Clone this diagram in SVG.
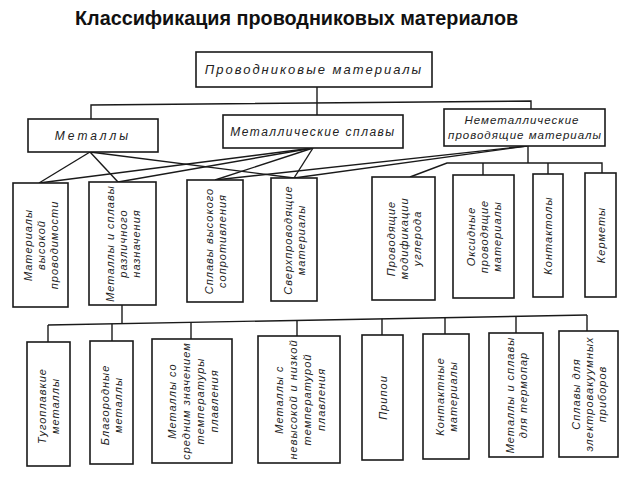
<svg xmlns="http://www.w3.org/2000/svg" width="640" height="480" viewBox="0 0 640 480">
<style>
.b{fill:#fff;stroke:#1a1a1a;stroke-width:1.6}
.c{fill:none;stroke:#1a1a1a;stroke-width:1.4}
.t{font-family:"Liberation Sans",Arial,sans-serif;font-style:italic;font-size:11px;letter-spacing:1px;fill:#222;text-anchor:middle}
.h{font-family:"Liberation Sans",Arial,sans-serif;font-weight:bold;font-size:19.8px;fill:#111}
</style>
<rect width="640" height="480" fill="#fff"/>
<text class="h" x="75" y="25">Классификация проводниковых материалов</text>

<g id="connectors">
<polyline class="c" points="317,87 317,115"/>
<polyline class="c" points="91,119 91,105 531,101 531,109"/>
<line class="c" x1="90" y1="152" x2="39" y2="183"/>
<line class="c" x1="90" y1="152" x2="118" y2="182"/>
<line class="c" x1="90" y1="152" x2="294" y2="178"/>
<line class="c" x1="313" y1="148" x2="39" y2="183"/>
<line class="c" x1="313" y1="148" x2="118" y2="182"/>
<line class="c" x1="313" y1="148" x2="215" y2="180"/>
<line class="c" x1="313" y1="148" x2="294" y2="178"/>
<line class="c" x1="527" y1="146" x2="215" y2="180"/>
<line class="c" x1="527" y1="146" x2="294" y2="178"/>
<polyline class="c" points="528,146 528,163"/>
<polyline class="c" points="410,177 447,163 602,163 602,173"/>
<line class="c" x1="483" y1="163" x2="483" y2="175"/>
<line class="c" x1="548" y1="163" x2="548" y2="174"/>
<line class="c" x1="122" y1="305" x2="122" y2="323.6"/>
<line class="c" x1="48" y1="325" x2="587" y2="315"/>
<line class="c" x1="48" y1="325" x2="48" y2="342"/>
<line class="c" x1="112" y1="323.8" x2="112" y2="341"/>
<line class="c" x1="191" y1="322.3" x2="191" y2="339"/>
<line class="c" x1="297" y1="320.4" x2="297" y2="336"/>
<line class="c" x1="382" y1="318.8" x2="382" y2="335"/>
<line class="c" x1="445" y1="317.6" x2="445" y2="334"/>
<line class="c" x1="516" y1="316.3" x2="516" y2="333"/>
<line class="c" x1="587" y1="315" x2="587" y2="331"/>
</g>

<g id="root"><rect class="b" x="196" y="52" width="236" height="35"/>
<text class="t" x="314" y="74" style="font-size:13px;letter-spacing:2px">Проводниковые  материалы</text></g>

<g id="metals"><rect class="b" x="28" y="119" width="130" height="33"/>
<text class="t" x="93" y="140" style="font-size:12px;letter-spacing:3px">Металлы</text></g>
<g id="alloys"><rect class="b" x="223" y="115" width="180" height="33"/>
<text class="t" x="313" y="136" style="font-size:12px;letter-spacing:1.5px">Металлические  сплавы</text></g>
<g id="nonmetal"><rect class="b" x="444" y="109" width="161" height="37"/>
<text class="t" x="522" y="124" style="font-size:11.5px;letter-spacing:1px">Неметаллические</text>
<text class="t" x="525" y="139" style="font-size:11.5px;letter-spacing:1px">проводящие материалы</text></g>

<g id="n1"><rect class="b" x="13" y="183" width="55" height="124"/>
<text class="t" transform="translate(40.5,245) rotate(-90)"><tspan x="0" y="-9">Материалы</tspan><tspan x="0" y="4">высокой</tspan><tspan x="0" y="17">проводимости</tspan></text></g>
<g id="n2"><rect class="b" x="89" y="182" width="67" height="123"/>
<text class="t" transform="translate(122.5,243.5) rotate(-90)"><tspan x="0" y="-9">Металлы и сплавы</tspan><tspan x="0" y="4">различного</tspan><tspan x="0" y="17">назначения</tspan></text></g>
<g id="n3"><rect class="b" x="187" y="180" width="56" height="122"/>
<text class="t" transform="translate(215,241) rotate(-90)"><tspan x="0" y="-2.5">Сплавы высокого</tspan><tspan x="0" y="10.5">сопротивления</tspan></text></g>
<g id="n4"><rect class="b" x="271" y="178" width="46" height="123"/>
<text class="t" transform="translate(294,240) rotate(-90)"><tspan x="0" y="-2.5">Сверхпроводящие</tspan><tspan x="0" y="10.5">материалы</tspan></text></g>
<g id="n5"><rect class="b" x="372" y="177" width="63" height="123"/>
<text class="t" transform="translate(403.5,238.5) rotate(-90)"><tspan x="0" y="-9">Проводящие</tspan><tspan x="0" y="4">модификации</tspan><tspan x="0" y="17">углерода</tspan></text></g>
<g id="n6"><rect class="b" x="453" y="175" width="61" height="123"/>
<text class="t" transform="translate(483.5,236.5) rotate(-90)"><tspan x="0" y="-9">Оксидные</tspan><tspan x="0" y="4">проводящие</tspan><tspan x="0" y="17">материалы</tspan></text></g>
<g id="n7"><rect class="b" x="533" y="174" width="30" height="123"/>
<text class="t" transform="translate(548,235.5) rotate(-90)"><tspan x="0" y="4">Контактолы</tspan></text></g>
<g id="n8"><rect class="b" x="585" y="173" width="31" height="124"/>
<text class="t" transform="translate(600.5,235) rotate(-90)"><tspan x="0" y="4">Керметы</tspan></text></g>

<g id="m1"><rect class="b" x="27" y="342" width="43" height="124"/>
<text class="t" transform="translate(48.5,406) rotate(-90)"><tspan x="0" y="-2.5">Тугоплавкие</tspan><tspan x="0" y="10.5">металлы</tspan></text></g>
<g id="m2"><rect class="b" x="90" y="341" width="43" height="123"/>
<text class="t" transform="translate(111.5,405) rotate(-90)"><tspan x="0" y="-2.5">Благородные</tspan><tspan x="0" y="10.5">металлы</tspan></text></g>
<g id="m3"><rect class="b" x="152" y="339" width="80" height="124"/>
<text class="t" transform="translate(192,401) rotate(-90)"><tspan x="0" y="-16">Металлы со</tspan><tspan x="0" y="-2">средним значением</tspan><tspan x="0" y="12">температуры</tspan><tspan x="0" y="26">плавления</tspan></text></g>
<g id="m4"><rect class="b" x="258" y="336" width="82" height="127"/>
<text class="t" transform="translate(299,399.5) rotate(-90)"><tspan x="0" y="-16">Металлы с</tspan><tspan x="0" y="-2">невысокой и низкой</tspan><tspan x="0" y="12">температурой</tspan><tspan x="0" y="26">плавления</tspan></text></g>
<g id="m5"><rect class="b" x="362" y="335" width="41" height="125"/>
<text class="t" transform="translate(382.5,397.5) rotate(-90)"><tspan x="0" y="4">Припои</tspan></text></g>
<g id="m6"><rect class="b" x="423" y="334" width="46" height="125"/>
<text class="t" transform="translate(446,396.5) rotate(-90)"><tspan x="0" y="-2.5">Контактные</tspan><tspan x="0" y="10.5">материалы</tspan></text></g>
<g id="m7"><rect class="b" x="489" y="333" width="54" height="124"/>
<text class="t" transform="translate(516,395) rotate(-90)"><tspan x="0" y="-2.5">Металлы и сплавы</tspan><tspan x="0" y="10.5">для термопар</tspan></text></g>
<g id="m8"><rect class="b" x="559" y="331" width="59" height="126"/>
<text class="t" transform="translate(588.5,394) rotate(-90)"><tspan x="0" y="-9">Сплавы для</tspan><tspan x="0" y="4">электровакуумных</tspan><tspan x="0" y="17">приборов</tspan></text></g>
</svg>
